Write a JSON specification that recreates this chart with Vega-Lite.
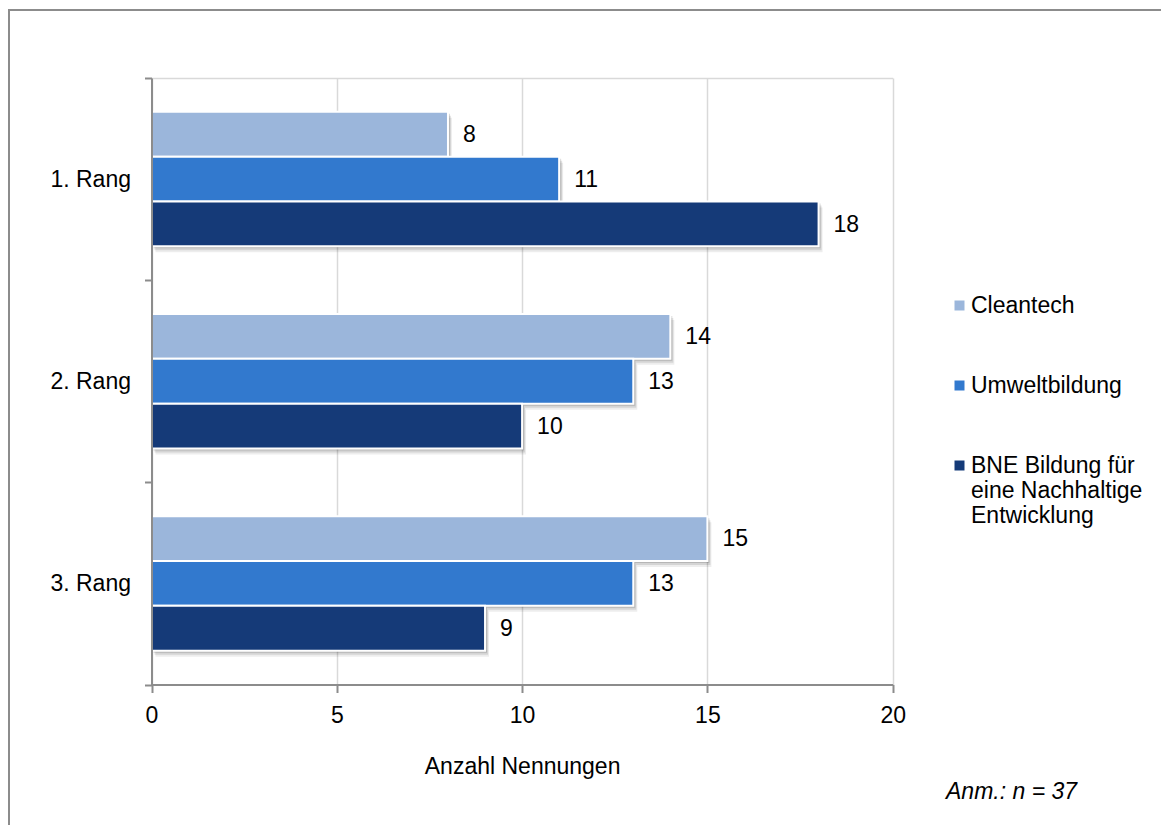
{
  "$schema": "https://vega.github.io/schema/vega-lite/v6.json",
  "width": 1170,
  "height": 830,
  "autosize": {"type": "none"},
  "padding": {"left": 9, "top": 10, "right": -18, "bottom": -15},
  "background": "white",
  "title": {
    "text": "Anm.: n = 37",
    "orient": "top",
    "anchor": "start",
    "frame": "group",
    "baseline": "alphabetic",
    "dx": 937,
    "dy": 827,
    "font": "Liberation Sans",
    "fontSize": 23,
    "fontStyle": "italic",
    "fontWeight": "normal",
    "color": "black"
  },
  "data": {
    "values": [
      {"rank": "1. Rang", "series": "Cleantech", "value": 8},
      {"rank": "1. Rang", "series": "Umweltbildung", "value": 11},
      {"rank": "1. Rang", "series": "BNE Bildung für eine Nachhaltige Entwicklung", "value": 18},
      {"rank": "2. Rang", "series": "Cleantech", "value": 14},
      {"rank": "2. Rang", "series": "Umweltbildung", "value": 13},
      {"rank": "2. Rang", "series": "BNE Bildung für eine Nachhaltige Entwicklung", "value": 10},
      {"rank": "3. Rang", "series": "Cleantech", "value": 15},
      {"rank": "3. Rang", "series": "Umweltbildung", "value": 13},
      {"rank": "3. Rang", "series": "BNE Bildung für eine Nachhaltige Entwicklung", "value": 9}
    ]
  },
  "encoding": {
    "y": {
      "field": "rank",
      "type": "nominal",
      "sort": ["1. Rang", "2. Rang", "3. Rang"],
      "scale": {"range": [68, 674.5], "paddingInner": 0, "paddingOuter": 0},
      "axis": {
        "orient": "left",
        "offset": -142.5,
        "title": null,
        "tickBand": "extent",
        "grid": false,
        "zindex": 1,
        "domainColor": "#8c8c8c",
        "domainWidth": 2,
        "tickColor": "#8c8c8c",
        "tickWidth": 2,
        "tickSize": 7,
        "labelPadding": 14,
        "labelFontSize": 23,
        "labelColor": "black",
        "labelFont": "Liberation Sans"
      }
    }
  },
  "layer": [
    {
      "mark": {"type": "bar", "fill": "black", "opacity": 0.07, "xOffset": 4},
      "encoding": {
        "x": {
          "field": "value",
          "type": "quantitative",
          "scale": {"domain": [0, 20], "range": [142.5, 883.7], "nice": false, "zero": true},
          "axis": {
            "orient": "top",
            "offset": -68,
            "values": [0, 5, 10, 15, 20],
            "grid": true,
            "gridColor": "#d9d9d9",
            "gridWidth": 1.5,
            "domainColor": "#d9d9d9",
            "domainWidth": 1.5,
            "ticks": false,
            "labels": false,
            "title": null
          }
        },
        "yOffset": {
          "field": "series",
          "type": "nominal",
          "sort": ["Cleantech", "Umweltbildung", "BNE Bildung für eine Nachhaltige Entwicklung"],
          "scale": {"paddingInner": 0, "paddingOuter": 0.755, "range": [6, 208.17]}
        }
      }
    },
    {
      "mark": {"type": "bar", "fill": "black", "opacity": 0.1, "xOffset": 3},
      "encoding": {
        "x": {"field": "value", "type": "quantitative", "axis": null},
        "yOffset": {
          "field": "series",
          "type": "nominal",
          "sort": ["Cleantech", "Umweltbildung", "BNE Bildung für eine Nachhaltige Entwicklung"],
          "scale": {"paddingInner": 0, "paddingOuter": 0.755, "range": [4, 206.17]}
        }
      }
    },
    {
      "mark": {"type": "bar", "fill": "black", "opacity": 0.14, "xOffset": 2},
      "encoding": {
        "x": {"field": "value", "type": "quantitative", "axis": null},
        "yOffset": {
          "field": "series",
          "type": "nominal",
          "sort": ["Cleantech", "Umweltbildung", "BNE Bildung für eine Nachhaltige Entwicklung"],
          "scale": {"paddingInner": 0, "paddingOuter": 0.755, "range": [2, 204.17]}
        }
      }
    },
    {
      "mark": {"type": "bar", "stroke": "white", "strokeWidth": 2, "opacity": 1},
      "encoding": {
        "x": {
          "field": "value",
          "type": "quantitative",
          "axis": {
            "orient": "bottom",
            "offset": -155.5,
            "values": [0, 5, 10, 15, 20],
            "grid": false,
            "labelFlush": false,
            "domainColor": "#8c8c8c",
            "domainWidth": 2,
            "tickColor": "#8c8c8c",
            "tickWidth": 2,
            "tickSize": 8,
            "labelPadding": 12,
            "labelFontSize": 23,
            "labelColor": "black",
            "labelFont": "Liberation Sans",
            "title": "Anzahl Nennungen",
            "titleFont": "Liberation Sans",
            "titleFontSize": 23,
            "titleFontWeight": "normal",
            "titleColor": "black",
            "titlePadding": 28
          }
        },
        "yOffset": {
          "field": "series",
          "type": "nominal",
          "sort": ["Cleantech", "Umweltbildung", "BNE Bildung für eine Nachhaltige Entwicklung"],
          "scale": {"paddingInner": 0, "paddingOuter": 0.755, "range": [0, 202.17]}
        },
        "color": {
          "field": "series",
          "type": "nominal",
          "scale": {
            "domain": ["Cleantech", "Umweltbildung", "BNE Bildung für eine Nachhaltige Entwicklung"],
            "range": ["#9bb6db", "#3279ce", "#153a78"]
          },
          "legend": {
            "title": null,
            "orient": "none",
            "legendX": 939,
            "legendY": 284,
            "padding": 0,
            "symbolType": "square",
            "symbolSize": 100,
            "symbolStrokeWidth": 0,
            "labelOffset": 0,
            "rowPadding": 56,
            "labelFont": "Liberation Sans",
            "labelFontSize": 23,
            "labelColor": "black",
            "labelLimit": 400,
            "labelBaseline": "middle",
            "labelExpr": "datum.label == 'BNE Bildung für eine Nachhaltige Entwicklung' ? ['BNE Bildung für', 'eine Nachhaltige', 'Entwicklung'] : datum.label"
          }
        }
      }
    },
    {
      "mark": {
        "type": "text",
        "align": "left",
        "baseline": "middle",
        "dx": 15,
        "font": "Liberation Sans",
        "fontSize": 23,
        "color": "black"
      },
      "encoding": {
        "x": {"field": "value", "type": "quantitative", "axis": null},
        "yOffset": {
          "field": "series",
          "type": "nominal",
          "sort": ["Cleantech", "Umweltbildung", "BNE Bildung für eine Nachhaltige Entwicklung"],
          "scale": {"paddingOuter": 1, "range": [12, 192]}
        },
        "text": {"field": "value", "type": "quantitative"}
      }
    }
  ],
  "resolve": {"scale": {"yOffset": "independent"}},
  "config": {
    "view": {"stroke": "#8c8c8c", "strokeWidth": 2},
    "font": "Liberation Sans"
  }
}
